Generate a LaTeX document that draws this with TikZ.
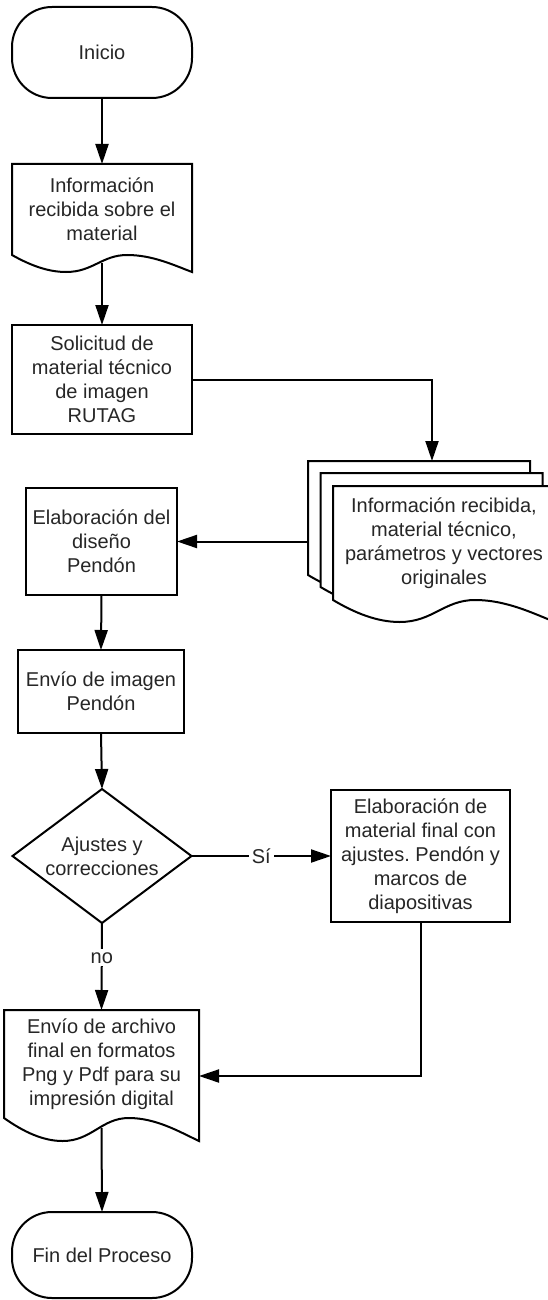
\documentclass[tikz,border=0pt]{standalone}
\usepackage{fontspec}
\setmainfont{Liberation Sans}
\usetikzlibrary{arrows.meta,calc}
\frenchspacing
% document outline: #2 node name, #3 width in px, #4 wave depth in px
\newcommand\docoutline[4][]{%
  \draw[line width=1pt,#1] (#2.north west) -- (#2.south west)
   .. controls ([shift={(0.1*#3,0.6*#4)}]#2.south west) and ([shift={(0.2*#3,#4)}]#2.south west) .. ([shift={(0.3*#3,#4)}]#2.south west)
   .. controls ([shift={(0.45*#3,#4)}]#2.south west) and ([shift={(0.5*#3,0)}]#2.south west) .. ([shift={(0.64*#3,0)}]#2.south west)
   .. controls ([shift={(0.78*#3,0)}]#2.south west) and ([shift={(0.9*#3,0.6*#4)}]#2.south west) .. ([shift={(#3,#4)}]#2.south west)
   -- (#2.north east) -- cycle;}
\tikzset{
  base/.style={draw, line width=1pt, align=center, inner sep=0pt, outer sep=0pt,
    font=\fontsize{10pt}{12pt}\selectfont, text=black!85},
  proc/.style={base, rectangle},
  term/.style={base, rounded corners=20pt},
  ghost/.style={base, draw=none},
  arr/.style={line width=1pt, -{Triangle[length=10pt,width=6.5pt]}},
  lbl/.style={fill=white, inner sep=1.5pt, font=\fontsize{10pt}{12pt}\selectfont, text=black!85}
}
\begin{document}
\begin{tikzpicture}[x=0.5pt,y=-0.5pt]
\useasboundingbox (0,0) rectangle (547,1300);

\node[term, minimum width=90pt, minimum height=45.5pt] (start) at (102,52.5) {Inicio};

\node[ghost, minimum width=90pt, minimum height=45.5pt] (d1) at (102,209.5)
  {Información\\recibida sobre el\\material};
\docoutline{d1}{180}{17}

\node[proc, minimum width=90pt, minimum height=54.5pt] (b2) at (102,379.5)
  {Solicitud de\\material técnico\\de imagen\\RUTAG};

% multi-document
\node[ghost, minimum width=111pt, minimum height=57pt] (md3) at (419,518) {};
\node[ghost, minimum width=111pt, minimum height=57pt] (md2) at (431.5,530) {};
\node[ghost, minimum width=111pt, minimum height=57pt] (md1) at (444,543) {};
\docoutline[fill=white]{md3}{222}{22}
\docoutline[fill=white]{md2}{222}{22}
\docoutline[fill=white]{md1}{222}{22}
\node[ghost] (mdt) at (md1.center)
  {Información recibida,\\material técnico,\\parámetros y vectores\\originales};

\node[proc, minimum width=75.5pt, minimum height=53.5pt] (b3) at (101.5,541.5)
  {Elaboración del\\diseño\\Pendón};

\node[proc, minimum width=83pt, minimum height=41.5pt] (b4) at (101,691.5)
  {Envío de imagen\\Pendón};

\node[ghost, minimum width=89.5pt, minimum height=67pt] (dec) at (102,856)
  {Ajustes y\\correcciones};
\draw[line width=1pt] (dec.north) -- (dec.east) -- (dec.south) -- (dec.west) -- cycle;

\node[proc, minimum width=89.5pt, minimum height=66pt] (rb) at (420.5,856)
  {Elaboración de\\material final con\\ajustes. Pendón y\\marcos de\\diapositivas};

\node[ghost, minimum width=97.5pt, minimum height=54pt] (d5) at (101.5,1064)
  {Envío de archivo\\final en formatos\\Png y Pdf para su\\impresión digital};
\docoutline{d5}{195}{23}

\node[term, minimum width=90pt, minimum height=43pt] (end) at (102,1255) {Fin del Proceso};

% connectors
\draw[arr] (start.south) -- (d1.north);
\draw[arr] ([yshift=-4pt]d1.south) -- (b2.north);
\draw[arr] (b2.east) -| ([xshift=6.5pt]md3.north);
\draw[arr] (md3.west |- b3.east) -- (b3.east);
\draw[arr] (b3.south) -- (b4.north);
\draw[arr] (b4.south) -- (dec.north);
\draw[arr] (dec.east) -- node[lbl] {Sí} (rb.west);
\draw[arr] (dec.south) -- node[lbl, pos=0.4] {no} (d5.north);
\draw[arr] (rb.south) |- ([yshift=-6pt]d5.east);
\draw[arr] ([yshift=-5pt]d5.south) -- (end.north);
\end{tikzpicture}
\end{document}
